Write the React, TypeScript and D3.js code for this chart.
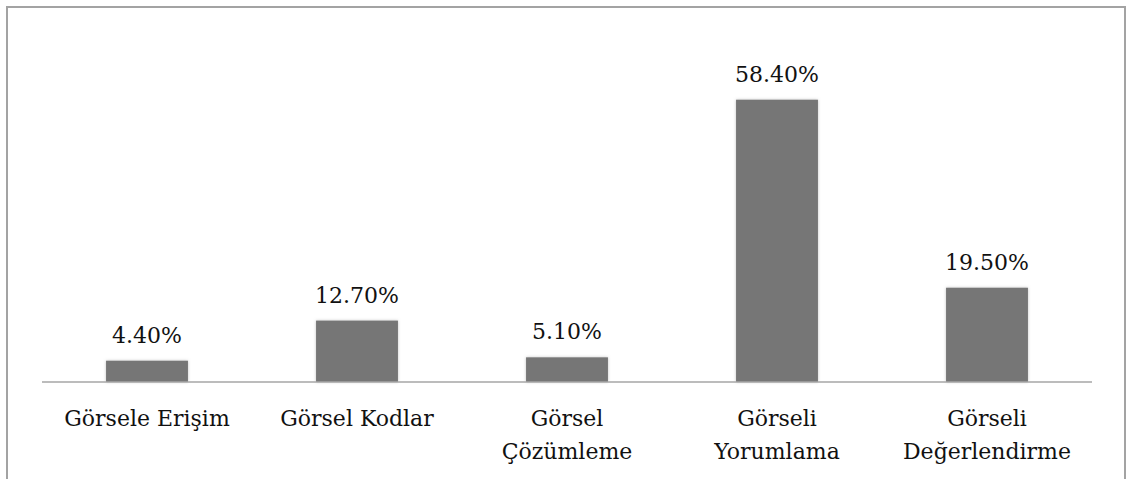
import React from "react";
import * as d3 from "d3";

const categories = [
  ["Görsele Erişim"],
  ["Görsel Kodlar"],
  ["Görsel", "Çözümleme"],
  ["Görseli", "Yorumlama"],
  ["Görseli", "Değerlendirme"],
];
const values = [4.4, 12.7, 5.1, 58.4, 19.5];

const width = 1128,
  height = 479;
const axisY = 382;
const font = "'DejaVu Serif', serif";

const App = () => {
  const keys = categories.map((c) => c.join(" "));

  const x = d3.scaleBand().domain(keys).range([42, 1092]).paddingInner(0.61).paddingOuter(0.305);
  const y = d3.scaleLinear().domain([0, 60]).range([axisY, axisY - 290]);
  const fmt = (v: number) => v.toFixed(2) + "%";

  return (
    <svg
      width={width}
      height={height}
      style={{ position: "absolute", left: 0, top: 0, background: "#fff" }}
    >
      <defs>
        <filter id="shadow" x="-20%" y="-20%" width="140%" height="140%">
          <feDropShadow dx="0" dy="0" stdDeviation="1.6" floodColor="#999" floodOpacity="0.6" />
        </filter>
      </defs>
      <rect x={7} y={7} width={1118} height={500} fill="none" stroke="#a3a3a3" strokeWidth={2} />

      {values.map((v, i) => (
        <rect
          key={keys[i]}
          x={x(keys[i])}
          y={y(v)}
          width={x.bandwidth()}
          height={axisY - y(v)}
          fill="#767676"
          filter="url(#shadow)"
        />
      ))}

      <line x1={42} x2={1092} y1={axisY} y2={axisY} stroke="#a6a6a6" strokeWidth={1.5} />

      <g fontFamily={font} fontSize={22} fill="#111" textAnchor="middle">
        {values.map((v, i) => (
          <text key={keys[i]} x={x(keys[i])! + x.bandwidth() / 2} y={y(v) - 18}>
            {fmt(v)}
          </text>
        ))}
        {categories.map((lines, i) => (
          <text key={keys[i]} x={x(keys[i])! + x.bandwidth() / 2} y={426}>
            {lines.map((l, j) => (
              <tspan key={l} x={x(keys[i])! + x.bandwidth() / 2} dy={j === 0 ? 0 : 33}>
                {l}
              </tspan>
            ))}
          </text>
        ))}
      </g>
    </svg>
  );
};

export default App;
